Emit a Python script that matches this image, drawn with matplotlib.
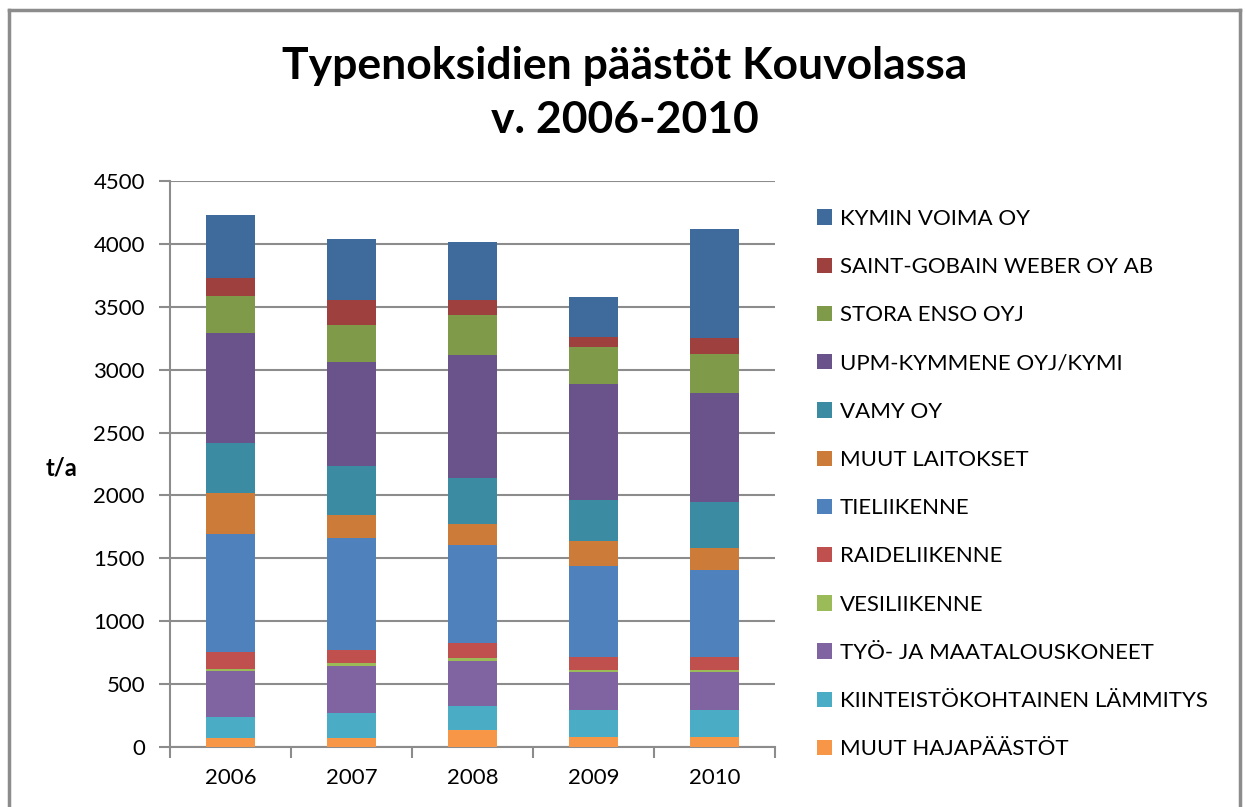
import matplotlib
matplotlib.use("Agg")
import matplotlib.pyplot as plt
import numpy as np

plt.rcParams['font.family'] = ['Lato', 'DejaVu Sans']

# Years on the x axis
years = ['2006', '2007', '2008', '2009', '2010']

# Emission sources, bottom of the stack first (t/a)
muut_hajapaastot = [75, 74, 135, 82, 82]
kiinteistokohtainen = [162, 194, 191, 215, 215]
tyo_ja_maatalous = [366, 376, 358, 297, 297]
vesiliikenne = [21, 21, 21, 18, 18]
raideliikenne = [132, 109, 122, 101, 101]
tieliikenne = [938, 888, 781, 726, 694]
muut_laitokset = [324, 182, 167, 201, 175]
vamy = [397, 387, 366, 326, 366]
upm_kymmene = [877, 827, 978, 917, 866]
stora_enso = [294, 294, 313, 297, 313]
saint_gobain = [146, 204, 124, 80, 122]
kymin_voima = [498, 480, 459, 315, 867]

series = [
    ('MUUT HAJAPÄÄSTÖT', muut_hajapaastot, '#F79646'),
    ('KIINTEISTÖKOHTAINEN LÄMMITYS', kiinteistokohtainen, '#4BACC6'),
    ('TYÖ- JA MAATALOUSKONEET', tyo_ja_maatalous, '#8064A2'),
    ('VESILIIKENNE', vesiliikenne, '#9BBB59'),
    ('RAIDELIIKENNE', raideliikenne, '#C0504D'),
    ('TIELIIKENNE', tieliikenne, '#4F81BD'),
    ('MUUT LAITOKSET', muut_laitokset, '#CC7B38'),
    ('VAMY OY', vamy, '#3B8BA3'),
    ('UPM-KYMMENE OYJ/KYMI', upm_kymmene, '#69538A'),
    ('STORA ENSO OYJ', stora_enso, '#7F9A48'),
    ('SAINT-GOBAIN WEBER OY AB', saint_gobain, '#9E413E'),
    ('KYMIN VOIMA OY', kymin_voima, '#3F6B9C'),
]

fig = plt.figure(figsize=(12.45, 8.07), dpi=100)
ax = fig.add_axes([170 / 1245, 1 - 747 / 807, 605 / 1245, 566 / 807])

x = np.arange(len(years))
bottom = np.zeros(len(years))
handles = []
for name, vals, col in series:
    b = ax.bar(x, vals, width=0.4, bottom=bottom, color=col, label=name, zorder=3)
    handles.append(b)
    bottom += np.array(vals)

ax.set_xlim(-0.5, 4.5)
ax.set_ylim(0, 4500)
ax.set_yticks(np.arange(0, 4501, 500))
ax.yaxis.grid(True, color='#8C8C8C', linewidth=1.5, zorder=0)
ax.set_axisbelow(True)

# category boundary ticks, labels centred on the bars
ax.set_xticks(x)
ax.set_xticklabels(years)
ax.set_xticks(np.arange(-0.5, 4.6, 1), minor=True)
ax.tick_params(axis='x', which='major', length=0, pad=15, labelsize=16)
ax.tick_params(axis='x', which='minor', length=8, width=1.5, color='#8C8C8C', direction='out')
ax.tick_params(axis='y', length=8, width=1.5, color='#8C8C8C', pad=10, labelsize=16)

for s in ['top', 'right']:
    ax.spines[s].set_visible(False)
for s in ['left', 'bottom']:
    ax.spines[s].set_color('#8C8C8C')
    ax.spines[s].set_linewidth(1.5)

leg = fig.legend(handles[::-1], [s[0] for s in series][::-1],
                 loc='upper left', bbox_to_anchor=(808 / 1245, 1 - 200 / 807),
                 frameon=False, fontsize=16, handlelength=0.68, handleheight=0.68,
                 handletextpad=0.35, labelspacing=1.27, borderaxespad=0)

fig.text(625 / 1245, 1 - 93 / 807, 'Typenoksidien päästöt Kouvolassa\nv. 2006-2010',
         ha='center', va='center', fontsize=32, fontweight='bold', linespacing=1.45)
fig.text(62 / 1245, 1 - 468 / 807, 't/a', ha='center', va='center',
         fontsize=17, fontweight='bold')

# outer chart frame
frame_col = '#8C8C8C'
fig.add_artist(plt.Line2D([9 / 1245, 9 / 1245], [0, 1 - 10 / 807], color=frame_col, lw=2.5, transform=fig.transFigure))
fig.add_artist(plt.Line2D([9 / 1245, 1240 / 1245], [1 - 10 / 807, 1 - 10 / 807], color=frame_col, lw=2.5, transform=fig.transFigure))
fig.add_artist(plt.Line2D([1240 / 1245, 1240 / 1245], [0, 1 - 10 / 807], color=frame_col, lw=2.5, transform=fig.transFigure))

plt.savefig('out.png', dpi=100)
